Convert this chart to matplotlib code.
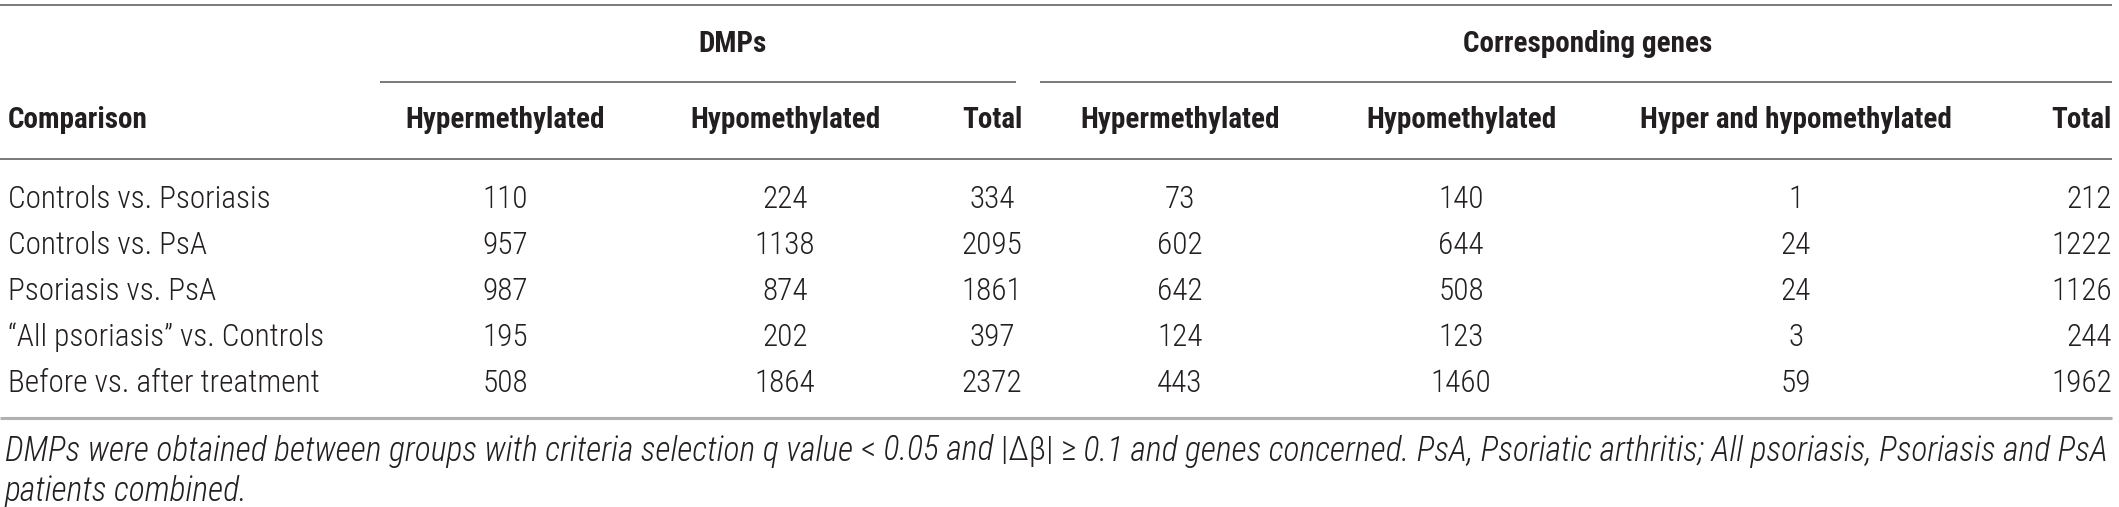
import matplotlib
matplotlib.use("Agg")
import matplotlib.pyplot as plt
from matplotlib import font_manager as fm

names = {f.name for f in fm.fontManager.ttflist}
FAM = next((f for f in ["Roboto Condensed", "Liberation Sans Narrow", "Liberation Sans"] if f in names), "DejaVu Sans")

# ---------------- data ----------------
group_headers = ["DMPs", "Corresponding genes"]
col_headers = ["Comparison", "Hypermethylated", "Hypomethylated", "Total",
               "Hypermethylated", "Hypomethylated", "Hyper and hypomethylated", "Total"]
comparisons = ["Controls vs. Psoriasis", "Controls vs. PsA", "Psoriasis vs. PsA",
               "\u201cAll psoriasis\u201d vs. Controls", "Before vs. after treatment"]
dmp_hyper = [110, 957, 987, 195, 508]
dmp_hypo = [224, 1138, 874, 202, 1864]
dmp_total = [334, 2095, 1861, 397, 2372]
gene_hyper = [73, 602, 642, 124, 443]
gene_hypo = [140, 644, 508, 123, 1460]
gene_both = [1, 24, 24, 3, 59]
gene_total = [212, 1222, 1126, 244, 1962]
# footnote pieces: (text, italic?)
footnote_line1 = [("DMPs were obtained between groups with criteria selection q value ", True),
                  ("<", False), (" 0.05 and ", True), ("|\u0394\u03b2| \u2265", False),
                  (" 0.1 and genes concerned. PsA, Psoriatic arthritis; All psoriasis, Psoriasis and PsA", True)]
footnote_line2 = [("patients combined.", True)]

# ---------------- layout ----------------
W, H = 2119, 507
fig = plt.figure(figsize=(W / 100, H / 100), dpi=100)
ax = fig.add_axes([0, 0, 1, 1])
ax.set_xlim(0, W)
ax.set_ylim(H, 0)
ax.axis("off")

TXT = "#231f20"
RULE = "#6e6e6e"
RIGHT = 2112
col_x = [8, 505, 785, 992, 1180, 1461, 1796, 2092]
y_top, y_group, y_under, y_head, y_rule = 5, 44, 82, 120, 159
row_y = [199, 245, 291, 337, 383]
y_bottom = 418
foot_y = [451, 491]

BODY = 22.5
BOLD = 21
LIGHT = 300

ax.plot([0, RIGHT], [y_top, y_top], color=RULE, lw=1.3, solid_capstyle="butt")
ax.text(732, y_group, group_headers[0], ha="center", va="center",
        fontsize=BOLD, fontweight="bold", family=FAM, color=TXT)
ax.text(1588, y_group, group_headers[1], ha="center", va="center",
        fontsize=BOLD, fontweight="bold", family=FAM, color=TXT)
ax.plot([380, 1016], [y_under, y_under], color=RULE, lw=1.3, solid_capstyle="butt")
ax.plot([1040, RIGHT], [y_under, y_under], color=RULE, lw=1.3, solid_capstyle="butt")

for i, (x, h) in enumerate(zip(col_x, col_headers)):
    last = i == len(col_x) - 1
    ha = "left" if i == 0 else ("right" if last else "center")
    ax.text(RIGHT if last else x, y_head, h, ha=ha, va="center", fontsize=BOLD,
            fontweight="bold", family=FAM, color=TXT)
ax.plot([0, RIGHT], [y_rule, y_rule], color=RULE, lw=1.3, solid_capstyle="butt")

cols = [dmp_hyper, dmp_hypo, dmp_total, gene_hyper, gene_hypo, gene_both, gene_total]
for r, y in enumerate(row_y):
    ax.text(col_x[0], y, comparisons[r], ha="left", va="center", fontsize=BODY,
            fontweight=LIGHT, family=FAM, color=TXT)
    for c, vals in enumerate(cols):
        i = c + 1
        last = i == len(col_x) - 1
        ax.text(RIGHT if last else col_x[i], y, str(vals[r]), ha="right" if last else "center",
                va="center", fontsize=BODY, fontweight=LIGHT, family=FAM, color=TXT)

ax.plot([0, RIGHT], [y_bottom, y_bottom], color="#b0b0b0", lw=2.2, solid_capstyle="butt")

renderer = fig.canvas.get_renderer()
inv = ax.transData.inverted()


def draw_pieces(pieces, y, size, x0=5):
    arts = []
    x = x0
    for s, ital in pieces:
        t = ax.text(x, y, s, ha="left", va="center", fontsize=size, fontweight=LIGHT,
                    style="italic" if ital else "normal", family=FAM, color=TXT)
        bb = t.get_window_extent(renderer=renderer)
        x = inv.transform((bb.x1, 0))[0]
        arts.append(t)
    return arts, x


# fit footnote line 1 to the table width
base = 22.5
arts, xend = draw_pieces(footnote_line1, foot_y[0], base)
for a in arts:
    a.remove()
FOOT = base * (2106 - 5) / (xend - 5)
draw_pieces(footnote_line1, foot_y[0], FOOT)
draw_pieces(footnote_line2, foot_y[1], FOOT)

fig.savefig("out.png", dpi=100, facecolor="white")
